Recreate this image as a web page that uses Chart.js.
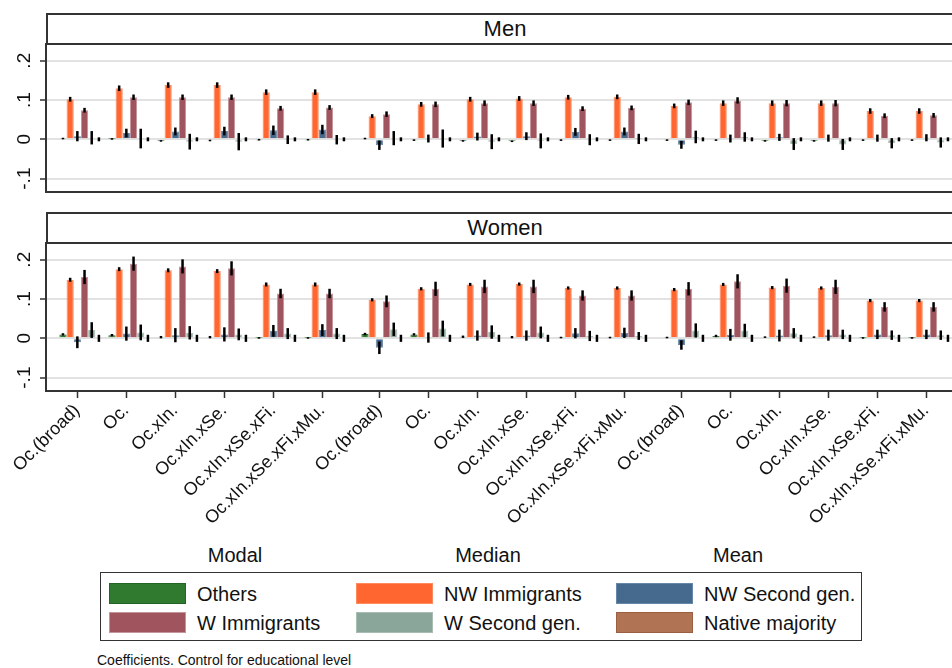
<!DOCTYPE html>
<html>
<head>
<meta charset="utf-8">
<script src="https://cdn.jsdelivr.net/npm/chart.js@4.4.0/dist/chart.umd.min.js"></script>
<style>
  html, body { margin: 0; padding: 0; background: #fff; }
  body { width: 952px; height: 668px; overflow: hidden; position: relative;
         font-family: Arial, "Liberation Sans", sans-serif; color: #111; }
  canvas { position: absolute; left: 0; }
  #menCanvas { top: 0; }
  #womenCanvas { top: 200px; }
  .strip { position: absolute; left: 46px; width: 914px; height: 28px; border: 2px solid #333;
           text-align: center; line-height: 28px; font-size: 22px; }
  .group { position: absolute; top: 544px; font-size: 20px; transform: translateX(-50%); }
  #legend { position: absolute; left: 100px; top: 572px; width: 760px; height: 67px; border: 1.5px solid #333; }
  .sw { position: absolute; width: 75px; height: 19px; border: 1px solid; }
  .lt { position: absolute; font-size: 20px; line-height: 22px; }
  #note { position: absolute; left: 97px; top: 652px; font-size: 14px; }
</style>
</head>
<body>
<div class="strip" style="top:13px">Men</div>
<div class="strip" style="top:212px">Women</div>
<canvas id="menCanvas" width="964" height="200"></canvas>
<canvas id="womenCanvas" width="964" height="340"></canvas>
<div class="group" style="left:235px">Modal</div>
<div class="group" style="left:488px">Median</div>
<div class="group" style="left:738px">Mean</div>
<div id="legend"></div>
<div id="note">Coefficients. Control for educational level</div>

<script>
// tick labels, repeated for Modal / Median / Mean
const specLabels = ['Oc.(broad)', 'Oc.', 'Oc.xIn.', 'Oc.xIn.xSe.', 'Oc.xIn.xSe.xFi.', 'Oc.xIn.xSe.xFi.xMu.'];
const categories = [...specLabels, ...specLabels, ...specLabels];
const seriesNames = ['Others', 'NW Immigrants', 'NW Second gen.', 'W Immigrants', 'W Second gen.', 'Native majority'];
const yTicks = [-0.1, 0, 0.1, 0.2];

// Men: coefficients and half-width of the error bars
const menOthers    = [0.002, 0.001, -0.004, -0.003, -0.001, -0.001, 0.002, -0.002, -0.004, -0.005, -0.002, -0.002, -0.002, -0.002, -0.004, -0.004, -0.002, -0.002];
const menOthersErr = [0.002, 0.002, 0.002, 0.002, 0.002, 0.002, 0.002, 0.002, 0.002, 0.002, 0.002, 0.002, 0.002, 0.002, 0.002, 0.002, 0.002, 0.002];
const menNWImm     = [0.102, 0.130, 0.138, 0.138, 0.120, 0.120, 0.059, 0.089, 0.102, 0.104, 0.107, 0.108, 0.085, 0.092, 0.092, 0.092, 0.072, 0.072];
const menNWImmErr  = [0.006, 0.007, 0.007, 0.007, 0.007, 0.007, 0.005, 0.006, 0.006, 0.006, 0.006, 0.006, 0.006, 0.007, 0.007, 0.007, 0.007, 0.007];
const menNWSec     = [0.008, 0.016, 0.020, 0.021, 0.023, 0.025, -0.015, 0.002, 0.007, 0.008, 0.019, 0.020, -0.014, 0.002, 0.005, 0.003, 0.003, 0.004];
const menNWSecErr  = [0.013, 0.011, 0.010, 0.011, 0.012, 0.012, 0.012, 0.010, 0.010, 0.010, 0.010, 0.010, 0.010, 0.010, 0.009, 0.009, 0.009, 0.009];
const menWImm      = [0.074, 0.107, 0.107, 0.107, 0.079, 0.081, 0.064, 0.089, 0.092, 0.092, 0.078, 0.080, 0.094, 0.099, 0.092, 0.092, 0.060, 0.061];
const menWImmErr   = [0.006, 0.007, 0.007, 0.007, 0.006, 0.006, 0.007, 0.007, 0.007, 0.007, 0.006, 0.006, 0.007, 0.008, 0.008, 0.008, 0.006, 0.006];
const menWSec      = [0.004, 0.002, -0.006, -0.006, -0.001, -0.001, 0.003, 0.002, -0.006, -0.004, -0.001, 0.001, 0.006, 0.006, -0.012, -0.013, -0.010, -0.008];
const menWSecErr   = [0.017, 0.025, 0.020, 0.022, 0.011, 0.012, 0.018, 0.023, 0.019, 0.019, 0.014, 0.013, 0.016, 0.012, 0.015, 0.014, 0.013, 0.013];
const menNative    = [0, 0, 0, 0, 0, 0, 0, 0, 0, 0, 0, 0, 0, 0, 0, 0, 0, 0];
const menNativeErr = [0.005, 0.005, 0.005, 0.005, 0.005, 0.005, 0.005, 0.005, 0.005, 0.005, 0.005, 0.005, 0.005, 0.005, 0.005, 0.005, 0.005, 0.005];

// Women
const womenOthers    = [0.010, 0.008, 0.003, 0.003, 0.001, 0.001, 0.011, 0.010, 0.004, 0.003, 0.002, 0.002, 0.002, 0.006, 0.003, 0.003, 0.001, 0.001];
const womenOthersErr = [0.003, 0.003, 0.003, 0.003, 0.002, 0.002, 0.003, 0.003, 0.003, 0.003, 0.002, 0.002, 0.002, 0.003, 0.002, 0.002, 0.002, 0.002];
const womenNWImm     = [0.149, 0.176, 0.173, 0.171, 0.137, 0.137, 0.098, 0.126, 0.137, 0.138, 0.128, 0.128, 0.124, 0.137, 0.129, 0.128, 0.096, 0.096];
const womenNWImmErr  = [0.005, 0.005, 0.005, 0.005, 0.005, 0.005, 0.004, 0.004, 0.004, 0.004, 0.004, 0.004, 0.004, 0.004, 0.004, 0.004, 0.004, 0.004];
const womenNWSec     = [-0.010, 0.012, 0.008, 0.010, 0.019, 0.021, -0.024, 0.002, 0.007, 0.007, 0.013, 0.014, -0.017, 0.009, 0.007, 0.008, 0.010, 0.010];
const womenNWSecErr  = [0.015, 0.018, 0.018, 0.018, 0.015, 0.015, 0.016, 0.013, 0.013, 0.013, 0.013, 0.013, 0.012, 0.015, 0.015, 0.014, 0.012, 0.012];
const womenWImm      = [0.156, 0.190, 0.183, 0.178, 0.114, 0.114, 0.094, 0.126, 0.132, 0.132, 0.109, 0.109, 0.126, 0.145, 0.134, 0.131, 0.080, 0.080];
const womenWImmErr   = [0.018, 0.018, 0.018, 0.018, 0.012, 0.012, 0.015, 0.018, 0.017, 0.017, 0.013, 0.013, 0.017, 0.018, 0.018, 0.018, 0.012, 0.012];
const womenWSec      = [0.021, 0.015, 0.014, 0.010, 0.012, 0.012, 0.023, 0.025, 0.016, 0.015, 0.006, 0.006, 0.020, 0.020, 0.013, 0.010, 0.008, 0.008];
const womenWSecErr   = [0.020, 0.020, 0.017, 0.015, 0.014, 0.014, 0.017, 0.020, 0.017, 0.015, 0.013, 0.010, 0.018, 0.017, 0.013, 0.012, 0.012, 0.012];
const womenNative    = [0, 0, 0, 0, 0, 0, 0, 0, 0, 0, 0, 0, 0, 0, 0, 0, 0, 0];
const womenNativeErr = [0.009, 0.009, 0.009, 0.009, 0.009, 0.009, 0.009, 0.009, 0.009, 0.009, 0.009, 0.009, 0.009, 0.009, 0.009, 0.009, 0.009, 0.009];

const FILL = ['#2f7a2f', '#ff6630', '#456a8e', '#a0545e', '#8aa599', '#b07454'];
const EDGE = ['#256325', '#ff8a5e', '#6687a8', '#c4959b', '#a9bdb3', '#9a5f42'];
const FONT = 'Arial, "Liberation Sans", sans-serif';

// x positions: a little extra room between Modal / Median / Mean blocks
const pos = categories.map((c, i) => i + Math.floor(i / 6) * 0.163);
const X_MIN = -0.633, X_MAX = 18.1;
const Y_MIN = -0.134, Y_MAX = 0.2425;

function fmtY(v) {
  if (v === 0) return '0';
  return (v < 0 ? '-' : '') + Math.abs(v).toFixed(1).replace(/^0/, '');
}

function makeDatasets(vals, errs) {
  return seriesNames.map((name, s) => ({
    label: name,
    data: vals[s].map((v, i) => ({ x: pos[i] + 0.08, y: v })),
    errors: errs[s],
    backgroundColor: FILL[s],
    borderColor: EDGE[s],
    borderWidth: 1,
    categoryPercentage: 0.88,
    barPercentage: 1,
  }));
}

const errorBars = {
  id: 'errorBars',
  afterDatasetsDraw(chart) {
    const { ctx } = chart;
    const y = chart.scales.y;
    ctx.save();
    ctx.strokeStyle = '#000';
    ctx.lineWidth = 2.5;
    chart.data.datasets.forEach((ds, d) => {
      const meta = chart.getDatasetMeta(d);
      meta.data.forEach((bar, i) => {
        const v = ds.data[i].y, e = ds.errors[i];
        ctx.beginPath();
        ctx.moveTo(bar.x, y.getPixelForValue(v - e));
        ctx.lineTo(bar.x, y.getPixelForValue(v + e));
        ctx.stroke();
      });
    });
    ctx.restore();
  }
};

const plotBox = {
  id: 'plotBox',
  afterDraw(chart) {
    const { ctx, chartArea: a } = chart;
    ctx.save();
    ctx.strokeStyle = '#333';
    ctx.lineWidth = 2;
    ctx.strokeRect(a.left, a.top, a.right - a.left, a.bottom - a.top);
    ctx.restore();
  }
};

function makeChart(canvasId, vals, errs, showX, padTop, padBottom) {
  return new Chart(document.getElementById(canvasId), {
    type: 'bar',
    data: { datasets: makeDatasets(vals, errs) },
    options: {
      responsive: false,
      animation: false,
      layout: { padding: { top: padTop, bottom: padBottom, left: 0, right: 0 } },
      plugins: { legend: { display: false }, tooltip: { enabled: false } },
      scales: {
        x: {
          type: 'linear',
          display: showX,
          offset: false,
          min: X_MIN, max: X_MAX,
          afterBuildTicks: ax => { ax.ticks = pos.map(v => ({ value: v })); },
          afterFit: ax => {
            ax.height = showX ? 149 : 0;
            ax.paddingLeft = 0; ax.paddingRight = 0;
          },
          ticks: {
            autoSkip: false, minRotation: 45, maxRotation: 45, padding: 2,
            color: '#111', font: { family: FONT, size: 18 },
            callback: (v, i) => categories[i],
          },
          grid: { offset: false, drawOnChartArea: false, tickColor: '#333', tickLength: 7, tickWidth: 1.5 },
          border: { display: false },
        },
        y: {
          min: Y_MIN, max: Y_MAX,
          afterBuildTicks: ax => { ax.ticks = yTicks.map(v => ({ value: v })); },
          afterFit: ax => { ax.width = 46; ax.paddingTop = 0; ax.paddingBottom = 0; },
          ticks: {
            minRotation: 90, maxRotation: 90, crossAlign: 'center', padding: 4,
            color: '#111', font: { family: FONT, size: 19 },
            callback: v => fmtY(v),
          },
          grid: { color: '#e2e2e2', lineWidth: 2, tickColor: '#333', tickLength: 6, tickWidth: 1.5 },
          border: { display: false },
        },
      },
    },
    plugins: [errorBars, plotBox],
  });
}

makeChart('menCanvas',
  [menOthers, menNWImm, menNWSec, menWImm, menWSec, menNative],
  [menOthersErr, menNWImmErr, menNWSecErr, menWImmErr, menWSecErr, menNativeErr],
  false, 44, 8);

makeChart('womenCanvas',
  [womenOthers, womenNWImm, womenNWSec, womenWImm, womenWSec, womenNative],
  [womenOthersErr, womenNWImmErr, womenNWSecErr, womenWImmErr, womenWSecErr, womenNativeErr],
  true, 43, 0);

// legend: 3 columns, 2 rows
const legendEl = document.getElementById('legend');
const colLeft = [8, 255, 515];
const rowTop = [10, 39];
seriesNames.forEach((name, s) => {
  const c = s % 3, r = Math.floor(s / 3);
  const sw = document.createElement('div');
  sw.className = 'sw';
  sw.style.left = colLeft[c] + 'px';
  sw.style.top = rowTop[r] + 'px';
  sw.style.background = FILL[s];
  sw.style.borderColor = EDGE[s];
  legendEl.appendChild(sw);
  const t = document.createElement('div');
  t.className = 'lt';
  t.style.left = (colLeft[c] + 88) + 'px';
  t.style.top = rowTop[r] + 'px';
  t.textContent = name;
  legendEl.appendChild(t);
});
</script>
</body>
</html>
